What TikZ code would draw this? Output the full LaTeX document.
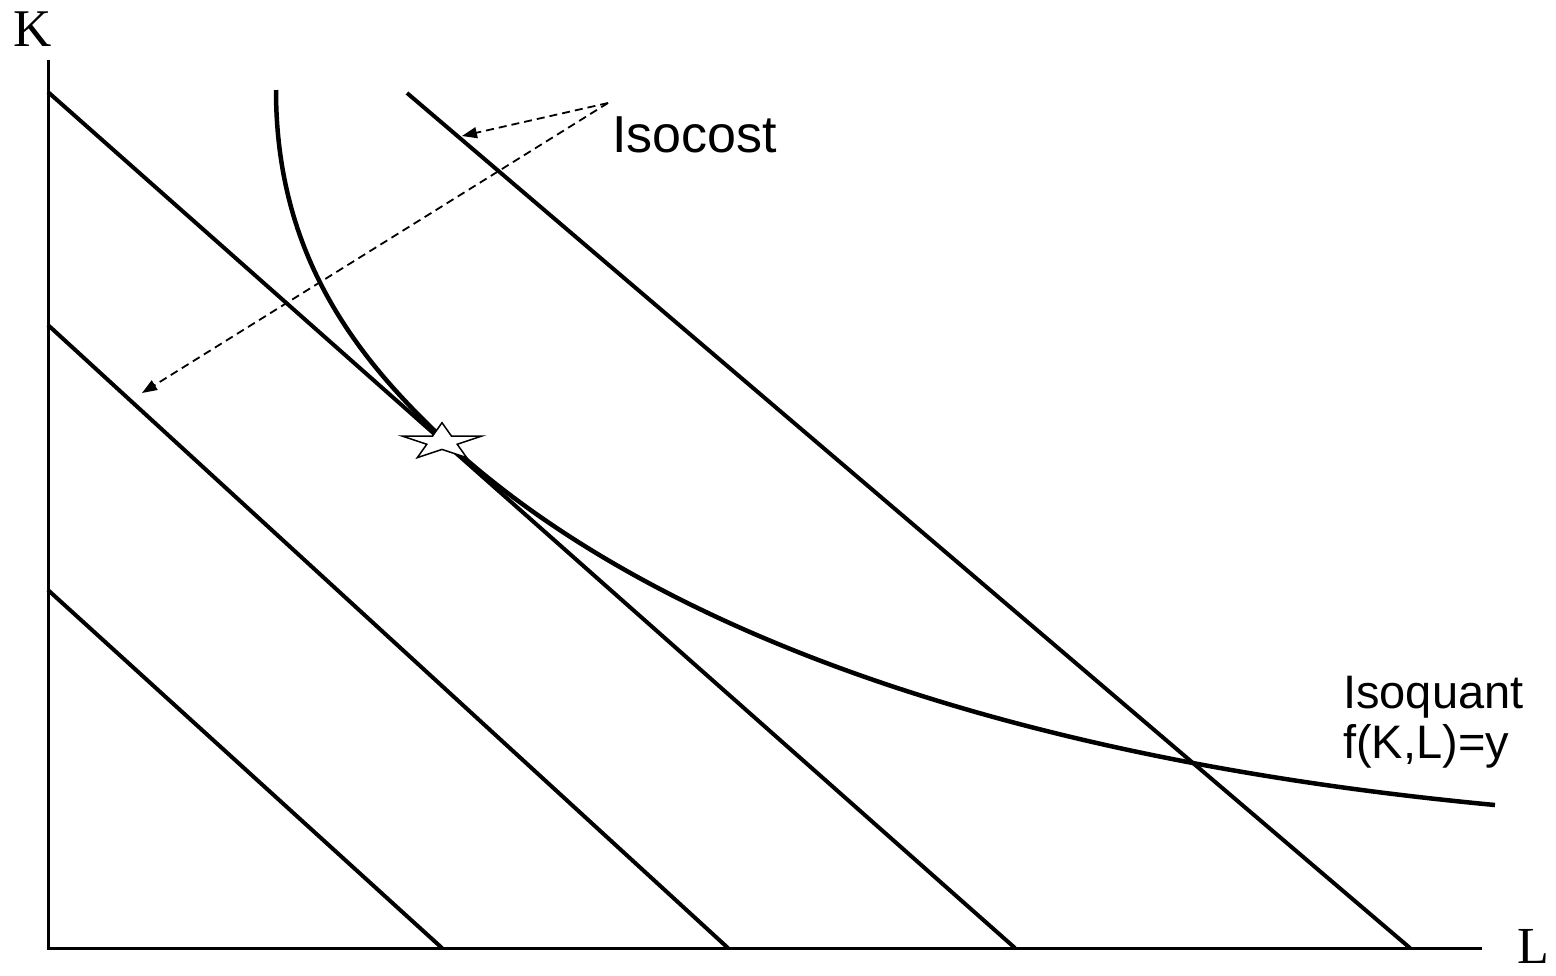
\documentclass[tikz,border=0pt]{standalone}
\usepackage{fontspec}
\setmainfont{Liberation Sans}
\newfontfamily\axisfont{Liberation Serif}
\usetikzlibrary{arrows.meta}
\begin{document}
\begin{tikzpicture}[x=1pt, y=-1pt]
    \tikzset{axis/.style={line width=3pt},
             budget/.style={line width=4pt},
             isoq/.style={line width=4.5pt},
             pointer/.style={line width=1.8pt, dash pattern=on 8pt off 5pt,
                             -{Triangle[length=15pt, width=11pt]}},
             starmark/.style={draw, fill=white, line width=1.5pt},
             lbl/.style={anchor=base west, inner sep=0pt}}
    \useasboundingbox (0,0) rectangle (1556,975);
    % axes
    \coordinate (O) at (48,948);
    \coordinate (Ktop) at (48,60);
    \coordinate (Lend) at (1482,948);
    \draw[axis] (Ktop) -- (O) -- (Lend);
    \node[anchor=base, inner sep=0pt, font=\axisfont\fontsize{53}{60}\selectfont] (Klbl) at (33,46) {K};
    \node[anchor=base, inner sep=0pt, font=\axisfont\fontsize{52}{60}\selectfont] (Llbl) at (1533,963) {L};
    % isocost lines
    \foreach \xa/\ya/\xb [count=\i] in {48/590/442, 48/325/728, 48/92/1015, 407/93/1410} {
      \coordinate (c\i a) at (\xa,\ya);
      \coordinate (c\i b) at (\xb,948);
      \draw[budget] (c\i a) -- (c\i b);
    }
    % isoquant
    \coordinate (qtop) at (276,90);
    \coordinate (qmid) at (438,434);
    \coordinate (qend) at (1495,805);
    \draw[isoq] (qtop) .. controls (276,250) and (351,351) .. (qmid)
                       .. controls (638,624) and (995,758) .. (qend);
    % optimum
    \coordinate (opt) at (442,442);
    \draw[starmark, shift={(opt)}] (-90:42 and 19.3)
      \foreach \k in {0,...,4} { -- ({-54+72*\k}:16 and 7.4) -- ({-18+72*\k}:42 and 19.3) } -- cycle;
    % labels
    \node[lbl, font=\fontsize{52}{60}\selectfont] (isocost) at (612,152) {Isocost};
    \node[lbl, font=\fontsize{47}{55}\selectfont] (isoquant) at (1343,708) {Isoquant};
    \node[lbl, font=\fontsize{47}{55}\selectfont] (prod) at (1343,758) {f(K,L)=y};
    \coordinate (src) at (608,103);
    \coordinate (tip1) at (462,136);
    \coordinate (tip2) at (142,393);
    \draw[pointer] (src) -- (tip1);
    \draw[pointer] (src) -- (tip2);
\end{tikzpicture}
\end{document}
